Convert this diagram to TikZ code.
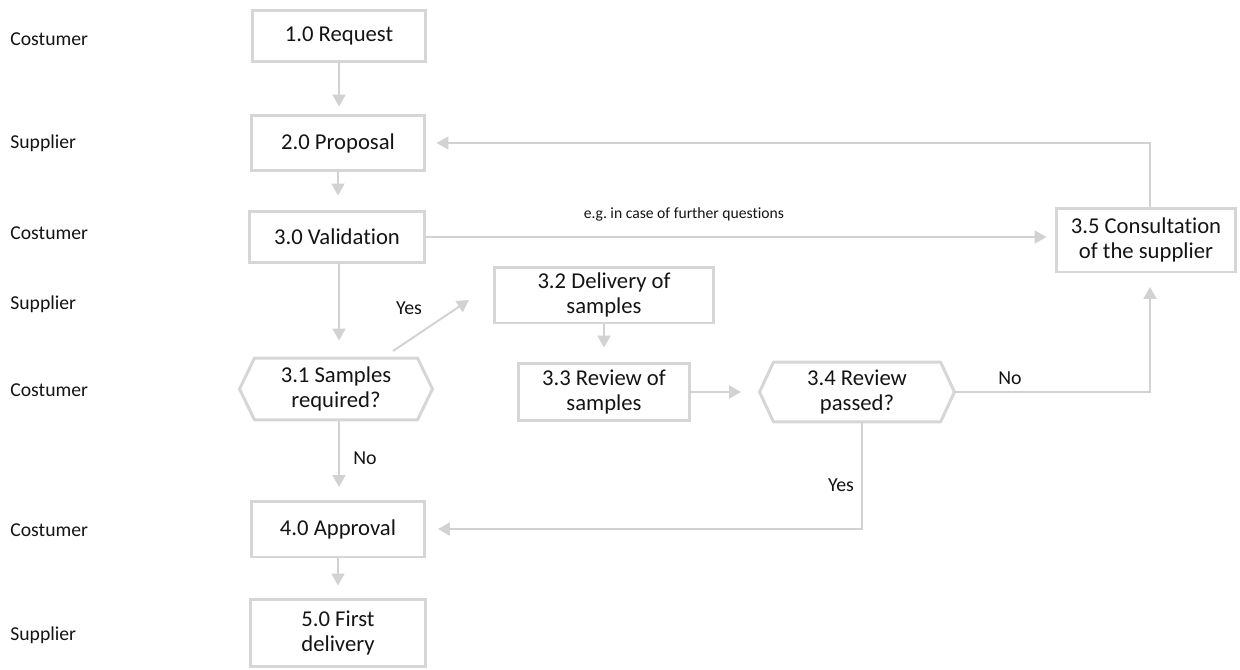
\documentclass[tikz,border=0pt]{standalone}
\usepackage{fontspec}
\setmainfont{Carlito}[Ligatures=NoCommon]
\definecolor{LineGrey}{HTML}{D2D2D2}
\definecolor{BoxGrey}{HTML}{D6D6D6}
\definecolor{InkBlack}{HTML}{141414}
\usepackage{tikz}
\usetikzlibrary{arrows.meta, positioning, calc}
\frenchspacing

\begin{document}
\begin{tikzpicture}[x=0.02cm, y=-0.02cm, >={Triangle[width=0.26cm, length=0.24cm]},
  stepbox/.style={draw=BoxGrey, line width=1.7pt, text=InkBlack, align=center, inner sep=0pt,
    font=\fontsize{12.9}{14.5}\selectfont},
  hexbox/.style={stepbox, draw=none},
  hexline/.style={draw=BoxGrey, line width=1.7pt, line join=round},
  lane/.style={anchor=west, inner sep=0pt, text=InkBlack, font=\fontsize{11.2}{13}\selectfont},
  flow/.style={->, draw=LineGrey, line width=1.1pt, shorten >=0.25cm},
  lbl/.style={text=InkBlack, font=\fontsize{11.3}{13}\selectfont}]
  \useasboundingbox (0,0) rectangle (1240,669);
  % Lanes
  \foreach \who/\yy [count=\i] in {Costumer/39, Supplier/143, Costumer/233, Supplier/304,
      Costumer/390, Costumer/530, Supplier/635}
    \node[lane] (lane\i) at (10,\yy) {\who};
  % Main column
  \node[stepbox, minimum width=3.46cm, minimum height=1.02cm] (req) at (339,36) {1.0 Request};
  \node[stepbox, minimum width=3.46cm, minimum height=1.1cm] (prop) at (338,143) {2.0 Proposal};
  \node[stepbox, minimum width=3.5cm, minimum height=1.02cm] (valid) at (337,237) {3.0 Validation};
  \node[hexbox, minimum width=3.8cm, minimum height=1.18cm] (needs) at (336,389) {3.1 Samples\\required?};
  \draw[hexline] (needs.west) -- ($(needs.north west)+(15,0)$) -- ($(needs.north east)+(-15,0)$)
    -- (needs.east) -- ($(needs.south east)+(-15,0)$) -- ($(needs.south west)+(15,0)$) -- cycle;
  \node[stepbox, minimum width=3.48cm, minimum height=1.12cm] (approve) at (338,529) {4.0 Approval};
  \node[stepbox, minimum width=3.5cm, minimum height=1.34cm] (first) at (338,633) {5.0 First\\delivery};
  % Sample loop
  \node[stepbox, minimum width=4.38cm, minimum height=1.12cm] (deliver) at (604,295) {3.2 Delivery of\\samples};
  \node[stepbox, minimum width=3.42cm, minimum height=1.14cm] (review) at (604,392) {3.3 Review of\\samples};
  \node[hexbox, minimum width=3.84cm, minimum height=1.14cm] (passed) at (857,392) {3.4 Review\\passed?};
  \draw[hexline] (passed.west) -- ($(passed.north west)+(14,0)$) -- ($(passed.north east)+(-14,0)$)
    -- (passed.east) -- ($(passed.south east)+(-14,0)$) -- ($(passed.south west)+(14,0)$) -- cycle;
  \node[stepbox, minimum width=3.58cm, minimum height=1.28cm] (consult) at (1146,240) {3.5 Consultation\\of the supplier};
  % Connectors
  \draw[flow, shorten >=0.15cm] (req.south) -- (req.south |- prop.north);
  \draw[flow, shorten >=0.29cm] (prop.south) -- (prop.south |- valid.north);
  \draw[flow, shorten >=0.35cm] ($(valid.south)+(2,0)$) -- ($(valid.south |- needs.north)+(2,0)$);
  \draw[flow, shorten >=0.17cm] (valid.east) -- (valid.east -| consult.west)
    node[pos=0.41, above=5pt, text=InkBlack, font=\fontsize{8.9}{10}\selectfont] (further) {e.g. in case of further questions};
  \draw[flow, shorten >=0.21cm] ($(consult.north)+(4,0)$) |- (prop.east);
  \draw[flow, shorten >=0] ($(needs.north)+(57,-7)$) -- ($(deliver.west)+(-24,5)$);
  \node[lbl] (yes1) at (409,308) {Yes};
  \draw[flow, shorten >=0.29cm] (deliver.south) -- (review.north);
  \draw[flow, shorten >=0.37cm] (review.east) -- (passed.west);
  \draw[flow, shorten >=0.27cm] (passed.east) -| ($(consult.south)+(4,0)$);
  \node[lbl] (no1) at (1010,378) {No};
  \draw[flow, shorten >=0.25cm] ($(needs.south)+(3,0)$) -- ($(needs.south |- approve.north)+(3,0)$);
  \node[lbl] (no2) at (365,458) {No};
  \draw[flow, shorten >=0.23cm] ($(passed.south)+(5,0)$) |- (approve.east);
  \node[lbl] (yes2) at (841,485) {Yes};
  \draw[flow, shorten >=0.25cm] (approve.south) -- (first.north);
\end{tikzpicture}
\end{document}
